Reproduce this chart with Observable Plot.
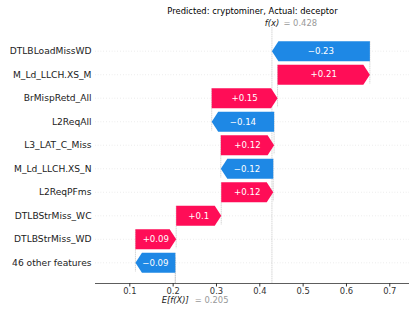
<!DOCTYPE html>
<html><head><meta charset="utf-8">
<script src="https://cdn.jsdelivr.net/npm/d3@7"></script>
<script src="https://cdn.jsdelivr.net/npm/@observablehq/plot@0.6"></script>
<style>html,body{margin:0;padding:0;background:#fff}</style>
</head><body><div id="chart"></div>
<script>
const titleText = "Predicted: cryptominer, Actual: deceptor";
const features = ["DTLBLoadMissWD","M_Ld_LLCH.XS_M","BrMispRetd_All","L2ReqAll","L3_LAT_C_Miss","M_Ld_LLCH.XS_N","L2ReqPFms","DTLBStrMiss_WC","DTLBStrMiss_WD","46 other features"];
const shapValues = [-0.226, 0.213, 0.152, -0.144, 0.123, -0.121, 0.12, 0.104, 0.094, -0.092];
const baseValue = 0.205;
const fxValue = 0.428;
const xTicks = [0.1, 0.2, 0.3, 0.4, 0.5, 0.6, 0.7];

const POS = "#ff0d57", NEG = "#1e88e5";
const headLen = 0.015, half = 0.425;
const n = features.length;
const yTop = -1.008, yBottom = 9.88;

const rows = [];
let acc = baseValue;
for (let i = n - 1; i >= 0; i--) {
  const start = acc, end = acc + shapValues[i];
  rows[i] = {i, feature: features[i], value: shapValues[i], start, end, mid: (start + end) / 2};
  acc = end;
}
const poly = [];
for (const r of rows) {
  const s = Math.sign(r.value);
  const hl = Math.min(headLen, Math.abs(r.value));
  const neck = r.end - s * hl;
  [[r.start, r.i - half], [neck, r.i - half], [r.end, r.i], [neck, r.i + half], [r.start, r.i + half]]
    .forEach(([x, y]) => poly.push({row: r.i, pos: r.value >= 0, x, y}));
}
const fmt = v => {
  const s = Math.abs(v).toFixed(2).replace(/0+$/, "").replace(/\.$/, "");
  return (v >= 0 ? "+" : "\u2212") + s;
};
const connectors = rows.map(r => ({x: r.start, y1: r.i - 0.4, y2: Math.min(r.i + 1.4, yBottom)}));

const chart = Plot.plot({
  width: 415, height: 312,
  marginLeft: 95, marginRight: 6, marginTop: 27, marginBottom: 29,
  style: {fontFamily: "DejaVu Sans", background: "#fff"},
  x: {domain: [0.0208, 0.7455]},
  y: {domain: [yBottom, yTop]},
  marks: [
    Plot.ruleY(rows, {y: "i", stroke: "#cccccc", strokeWidth: 0.6, strokeDasharray: "0.6,2.2"}),
    Plot.ruleX([fxValue], {x: d => d, stroke: "#bbbbbb", strokeWidth: 0.6, strokeDasharray: "1.6,0.6"}),
    Plot.ruleX([baseValue], {x: d => d, y1: yBottom, y2: yBottom - (yBottom - yTop) / n, stroke: "#bbbbbb", strokeWidth: 0.6, strokeDasharray: "1.6,0.6"}),
    Plot.ruleX(connectors, {x: "x", y1: "y1", y2: "y2", stroke: "#bbbbbb", strokeWidth: 0.6, strokeDasharray: "1.6,0.6"}),
    Plot.line(poly.filter(d => d.pos), {x: "x", y: "y", z: "row", curve: "linear-closed", fill: POS, stroke: "none"}),
    Plot.line(poly.filter(d => !d.pos), {x: "x", y: "y", z: "row", curve: "linear-closed", fill: NEG, stroke: "none"}),
    Plot.text(rows, {x: "mid", y: "i", text: d => fmt(d.value), fill: "white", fontSize: 8.6}),
    Plot.ruleY([yBottom], {y: d => d, stroke: "#333333", strokeWidth: 0.8}),
    Plot.axisX({ticks: xTicks, tickSize: 3.5, tickPadding: 1, fontSize: 8.4, color: "#333333", label: null}),
    Plot.axisY({ticks: d3.range(n), tickFormat: i => features[i], tickSize: 0, tickPadding: 4, fontSize: 9.15, color: "#222222", label: null}),
    Plot.text([titleText], {text: d => d, frameAnchor: "top", dy: -19.5, fontSize: 8.4, fill: "#000"}),
    Plot.text([fxValue], {x: d => d, text: () => "f(x)", frameAnchor: "top", dy: -7.5, fontSize: 8.4, fontStyle: "italic", fill: "#222"}),
    Plot.text([fxValue], {x: d => d, text: d => "= " + d.toFixed(3), frameAnchor: "top", dy: -7.5, dx: 11.5, textAnchor: "start", fontSize: 8.4, fill: "#999999"}),
    Plot.text([baseValue], {x: d => d, text: () => "E[f(X)]", frameAnchor: "bottom", dy: 19.3, fontSize: 8.4, fontStyle: "italic", fill: "#222"}),
    Plot.text([baseValue], {x: d => d, text: d => "= " + d.toFixed(3), frameAnchor: "bottom", dy: 19.3, dx: 19.5, textAnchor: "start", fontSize: 8.4, fill: "#999999"})
  ]
});
document.getElementById("chart").appendChild(chart);
</script>
</body></html>
